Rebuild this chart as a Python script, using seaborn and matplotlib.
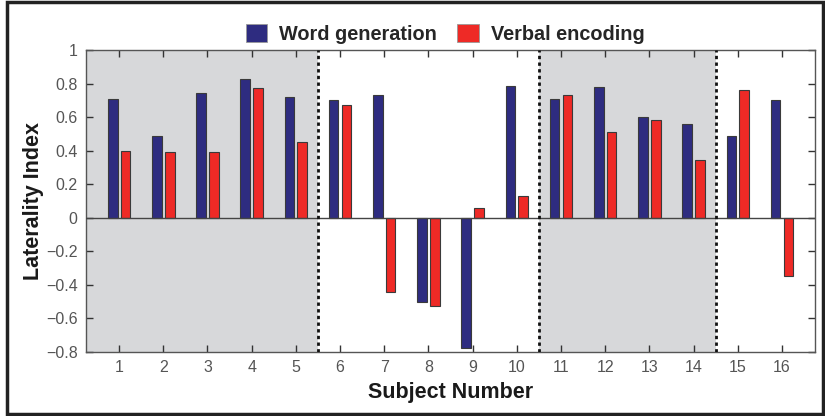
"""
Laterality index per subject: word generation vs verbal encoding.
"""
import numpy as np
import pandas as pd
import matplotlib
matplotlib.use("Agg")
import matplotlib.pyplot as plt
from matplotlib.patches import Patch, Rectangle
from matplotlib.ticker import FuncFormatter
import seaborn as sns

subjects = list(range(1, 17))
word_gen = [0.71, 0.49, 0.745, 0.825, 0.72, 0.70, 0.73, -0.50,
            -0.775, 0.785, 0.71, 0.78, 0.60, 0.56, 0.49, 0.70]
verbal_enc = [0.40, 0.39, 0.39, 0.775, 0.45, 0.675, -0.44, -0.525,
              0.06, 0.13, 0.73, 0.51, 0.58, 0.345, 0.76, -0.345]
tasks = ["Word generation", "Verbal encoding"]
colors = ["#2E2C80", "#EE2A26"]
shaded = [(0.25, 5.5), (10.5, 14.5)]
dividers = [5.5, 10.5, 14.5]

df = pd.DataFrame({
    "subject": subjects * 2,
    "LI": word_gen + verbal_enc,
    "task": [tasks[0]] * len(subjects) + [tasks[1]] * len(subjects),
})

sns.set_style("ticks")
plt.rcParams["font.family"] = ["Liberation Sans", "DejaVu Sans"]


def fmt(v, pos):
    v = round(v, 1)
    if v == 0:
        return "0"
    return f"{v:g}".replace("-", "\u2212")


fig = plt.figure(figsize=(8.25, 4.16), dpi=100)
ax = fig.add_axes([0.1042, 0.1538, 0.8838, 0.726])

for a, b in shaded:
    ax.axvspan(a, b, color="#D7D8DA", zorder=0, lw=0)

sns.barplot(data=df, x="subject", y="LI", hue="task", hue_order=tasks,
            palette=colors, saturation=1, native_scale=True, width=0.58, gap=0.25,
            edgecolor="#3a3a3a", linewidth=0.8, legend=False, ax=ax, zorder=2)

ax.axhline(0, color="#444444", lw=1, zorder=3)
for x in dividers:
    ax.axvline(x, color="#111111", ls=(0, (1.2, 1.2)), lw=2, zorder=4)

ax.set_xlim(0.25, 16.75)
ax.set_ylim(-0.8, 1.0)
ax.set_xticks(subjects)
ax.set_yticks(np.arange(-0.8, 1.01, 0.2))
ax.yaxis.set_major_formatter(FuncFormatter(fmt))
ax.tick_params(direction="in", length=5, width=1, color="#333333", labelcolor="#555555",
               labelsize=11.5, top=True, right=True, pad=6)
for s in ax.spines.values():
    s.set_color("#555555")
    s.set_linewidth(1)

ax.set_xlabel("Subject Number", fontsize=15.5, fontweight="bold", color="#1a1a1a", labelpad=5)
ax.set_ylabel("Laterality Index", fontsize=15.5, fontweight="bold", color="#1a1a1a", labelpad=1)

handles = [Patch(facecolor=c, edgecolor="#999999", lw=0.6) for c in colors]
ax.legend(handles, tasks, loc="center", bbox_to_anchor=(0.4925, 1.052), ncol=2,
          frameon=False, prop={"weight": "bold", "size": 14.3}, handlelength=1.1,
          handleheight=1.0, columnspacing=1.0, handletextpad=0.6, borderaxespad=0,
          borderpad=0)

fig.patches.append(Rectangle((0.008, 0.004), 0.99, 0.99, transform=fig.transFigure,
                             fill=False, edgecolor="#222222", lw=2.5))

fig.savefig("out.png", dpi=100)
